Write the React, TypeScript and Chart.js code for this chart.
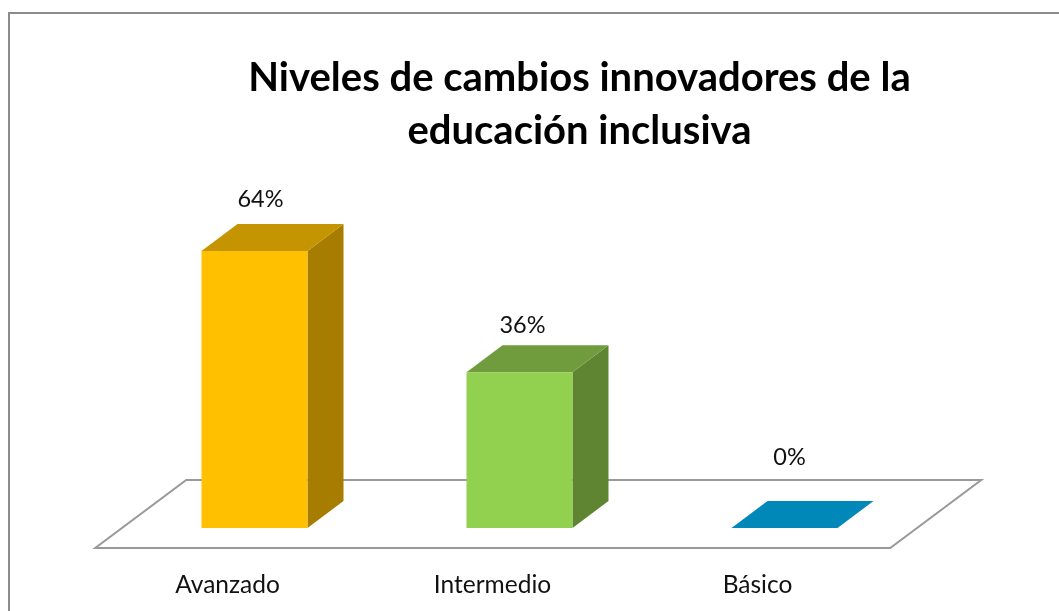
import React, { useEffect, useRef } from "react";
import { Chart, registerables } from "chart.js";

Chart.register(...registerables);

const categories = ["Avanzado", "Intermedio", "Básico"];
const values = [64, 36, 0];
const valueLabels = ["64%", "36%", "0%"];
const frontColors = ["#FFC000", "#92D050", "#0084B6"];
const sideColors = ["#A67D00", "#5F8532", "#005F82"];
const topColors = ["#C49500", "#719C3E", "#0088B9"];
const labelGaps = [52, 47, 71];
const labelShifts = [6, 3, 5];
const titleLines = ["Niveles de cambios innovadores de la", "educación inclusiva"];

const DEPTH_X = 36;
const DEPTH_Y = 27;
const FONT = 'Lato, "Open Sans", sans-serif';

const poly = (ctx: CanvasRenderingContext2D, pts: number[][], fill: string) => {
  ctx.beginPath();
  pts.forEach(([x, y], i) => (i ? ctx.lineTo(x, y) : ctx.moveTo(x, y)));
  ctx.closePath();
  ctx.fillStyle = fill;
  ctx.fill();
};

const scene3d = {
  id: "scene3d",
  afterLayout(chart: any) {
    // the title sits over the plot, not over the canvas
    chart.titleBlock.left = 100;
    chart.titleBlock.right = 1059;
  },
  beforeDatasetsDraw(chart: any) {
    const { ctx, chartArea: a } = chart;
    ctx.save();
    // frame
    ctx.strokeStyle = "#8C8C8C";
    ctx.lineWidth = 2;
    ctx.beginPath();
    ctx.moveTo(9, 611);
    ctx.lineTo(9, 13);
    ctx.lineTo(1059, 13);
    ctx.stroke();
    // floor
    const skew = 91 / 68;
    const fy = a.bottom + 20;
    const by = a.bottom - 48;
    ctx.strokeStyle = "#999999";
    ctx.beginPath();
    ctx.moveTo(a.left - 20 * skew, fy);
    ctx.lineTo(a.right - 20 * skew, fy);
    ctx.lineTo(a.right + 48 * skew, by);
    ctx.lineTo(a.left + 48 * skew, by);
    ctx.closePath();
    ctx.stroke();
    // bar depth faces
    chart.getDatasetMeta(0).data.forEach((bar: any, i: number) => {
      const { x, y, base, width } = bar.getProps(["x", "y", "base", "width"], true);
      const l = x - width / 2;
      const r = x + width / 2;
      poly(ctx, [[r, y], [r + DEPTH_X, y - DEPTH_Y], [r + DEPTH_X, base - DEPTH_Y], [r, base]], sideColors[i]);
      poly(ctx, [[l, y], [l + DEPTH_X, y - DEPTH_Y], [r + DEPTH_X, y - DEPTH_Y], [r, y]], topColors[i]);
    });
    ctx.restore();
  },
  afterDatasetsDraw(chart: any) {
    const { ctx } = chart;
    ctx.save();
    ctx.font = `23.5px ${FONT}`;
    ctx.fillStyle = "#111111";
    ctx.textAlign = "center";
    ctx.textBaseline = "middle";
    chart.getDatasetMeta(0).data.forEach((bar: any, i: number) => {
      const { x, y } = bar.getProps(["x", "y"], true);
      ctx.fillText(valueLabels[i], x + labelShifts[i], y - labelGaps[i]);
    });
    ctx.restore();
  },
};

export default function App() {
  const ref = useRef<HTMLCanvasElement>(null);
  useEffect(() => {
    document.body.style.margin = "0";
    document.body.style.background = "#ffffff";
    const chart = new Chart(ref.current!, {
      type: "bar",
      plugins: [scene3d],
      data: {
        labels: categories,
        datasets: [
          {
            data: values,
            backgroundColor: frontColors,
            borderWidth: 0,
            barPercentage: 0.4,
            categoryPercentage: 1,
            minBarLength: 0,
          },
        ],
      },
      options: {
        responsive: false,
        animation: false,
        layout: { padding: { left: 122, right: 142, top: 0, bottom: 0 } },
        plugins: {
          legend: { display: false },
          tooltip: { enabled: false },
          title: {
            display: true,
            text: titleLines,
            color: "#000000",
            font: { family: FONT, size: 40, weight: "bold", lineHeight: 1.325 },
            padding: { top: 52, bottom: 67 },
          },
        },
        scales: {
          x: {
            grid: { display: false },
            border: { display: false },
            ticks: {
              color: "#111111",
              font: { family: FONT, size: 24.5 },
              padding: 34,
              labelOffset: -27,
              maxRotation: 0,
            },
            afterFit: (s: any) => {
              s.height = 83;
            },
          },
          y: { display: false, min: 0, max: 70 },
        },
      },
    } as any);
    return () => chart.destroy();
  }, []);
  return (
    <div style={{ width: 1059, height: 611 }}>
      <canvas ref={ref} width={1059} height={611} style={{ display: "block" }} />
    </div>
  );
}
